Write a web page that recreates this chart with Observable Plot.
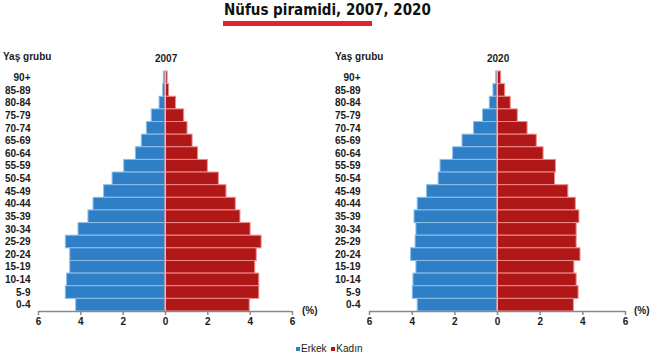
<!DOCTYPE html>
<html>
<head>
<meta charset="utf-8">
<script src="https://cdn.jsdelivr.net/npm/d3@7"></script>
<script src="https://cdn.jsdelivr.net/npm/@observablehq/plot@0.6"></script>
<style>
  html, body { margin: 0; padding: 0; background: #fff; }
  #wrap { position: relative; width: 650px; height: 360px; background: #fff; font-family: "Liberation Sans", Arial, sans-serif; color: #1a1a1a; overflow: hidden; }
  .abs { position: absolute; white-space: nowrap; }
  #title { left: 224px; top: 1px; width: 149px; text-align: center; font-family: "Liberation Sans Narrow", "DejaVu Sans Condensed", sans-serif; font-stretch: condensed; font-weight: bold; font-size: 15px; color: #111; }
  #uline { left: 223px; top: 21px; width: 149px; height: 5px; background: #e3222b; }
  .hdr { font-weight: bold; font-size: 10px; }
  .pct { font-weight: bold; font-size: 10px; }
  #legend { left: 296px; top: 343px; font-size: 10px; }
  .sw { display: inline-block; width: 4px; height: 4px; margin-right: 1px; vertical-align: 1px; }
  .plot { position: absolute; top: 45px; }
  .plot svg { font-family: "Liberation Sans", Arial, sans-serif; }
</style>
</head>
<body>
<div id="wrap">
  <div id="title" class="abs">Nüfus piramidi, 2007, 2020</div>
  <div id="uline" class="abs"></div>
  <div class="abs hdr" style="left:3px;top:51px;">Yaş grubu</div>
  <div class="abs hdr" style="left:155px;top:53px;">2007</div>
  <div class="abs hdr" style="left:335px;top:51px;">Yaş grubu</div>
  <div class="abs hdr" style="left:487px;top:53px;">2020</div>
  <div id="p2007" class="plot" style="left:0px;"></div>
  <div id="p2020" class="plot" style="left:330px;"></div>
  <div class="abs pct" style="left:302px;top:305px;">(%)</div>
  <div class="abs pct" style="left:634px;top:305px;">(%)</div>
  <div id="legend" class="abs"><span class="sw" style="background:#2f7fc7"></span>Erkek <span class="sw" style="background:#b01717;margin-left:2px"></span>Kadın</div>
</div>
<script>
// Age groups, top to bottom
const ages = ["90+","85-89","80-84","75-79","70-74","65-69","60-64","55-59","50-54","45-49","40-44","35-39","30-34","25-29","20-24","15-19","10-14","5-9","0-4"];
// Share of total population (%), same order as ages
const erkek2007 = [0.08,0.11,0.28,0.65,0.88,1.12,1.40,1.95,2.50,2.90,3.40,3.64,4.11,4.71,4.50,4.50,4.65,4.71,4.22];
const kadin2007 = [0.10,0.17,0.50,0.88,1.04,1.28,1.54,2.00,2.52,2.88,3.32,3.54,4.02,4.54,4.31,4.24,4.43,4.43,3.98];
const erkek2020 = [0.06,0.19,0.36,0.68,1.10,1.64,2.08,2.67,2.76,3.30,3.74,3.89,3.80,3.84,4.05,3.80,3.94,3.97,3.74];
const kadin2020 = [0.17,0.36,0.62,0.95,1.41,1.84,2.16,2.74,2.70,3.32,3.67,3.84,3.71,3.71,3.89,3.60,3.71,3.80,3.58];
const xTicks = [-6,-4,-2,0,2,4,6];

function pyramid(male, female, width, ml, mr) {
  const rows = ages.map((a, i) => ({age: a, m: male[i], f: female[i]}));
  return Plot.plot({
    width, height: 290,
    marginLeft: ml, marginRight: mr, marginTop: 26, marginBottom: 24,
    style: {fontSize: "10px", fontWeight: "bold", color: "#1a1a1a", background: "transparent"},
    x: {domain: [-6, 6], label: null},
    y: {domain: ages, padding: 0, round: false, label: null},
    marks: [
      Plot.barX(rows, {x: d => -d.m, y: "age", fill: "#2f7fc7", stroke: "#8cbfea", strokeWidth: 1}),
      Plot.barX(rows, {x: "f", y: "age", fill: "#b01717", stroke: "#ee8a8a", strokeWidth: 1}),
      Plot.ruleX([0], {stroke: "#c8c8c8", strokeWidth: 1}),
      Plot.ruleY([ages[ages.length - 1]], {x1: -6, x2: 6, stroke: "#8a8a8a", strokeWidth: 1.5, dy: 240 / 19 / 2}),
      Plot.axisX({ticks: xTicks, tickFormat: d => Math.abs(d), tickSize: 4, tickPadding: 2, stroke: "#8a8a8a", strokeWidth: 1.5, fill: "#1a1a1a", fontWeight: "bold", label: null}),
      Plot.axisY({tickSize: 0, tickPadding: ml - 30, fill: "#1a1a1a", fontWeight: "bold", label: null})
    ]
  });
}

document.getElementById("p2007").append(pyramid(erkek2007, kadin2007, 325, 38, 33));
document.getElementById("p2020").append(pyramid(erkek2020, kadin2020, 320, 39, 25));
</script>
</body>
</html>
